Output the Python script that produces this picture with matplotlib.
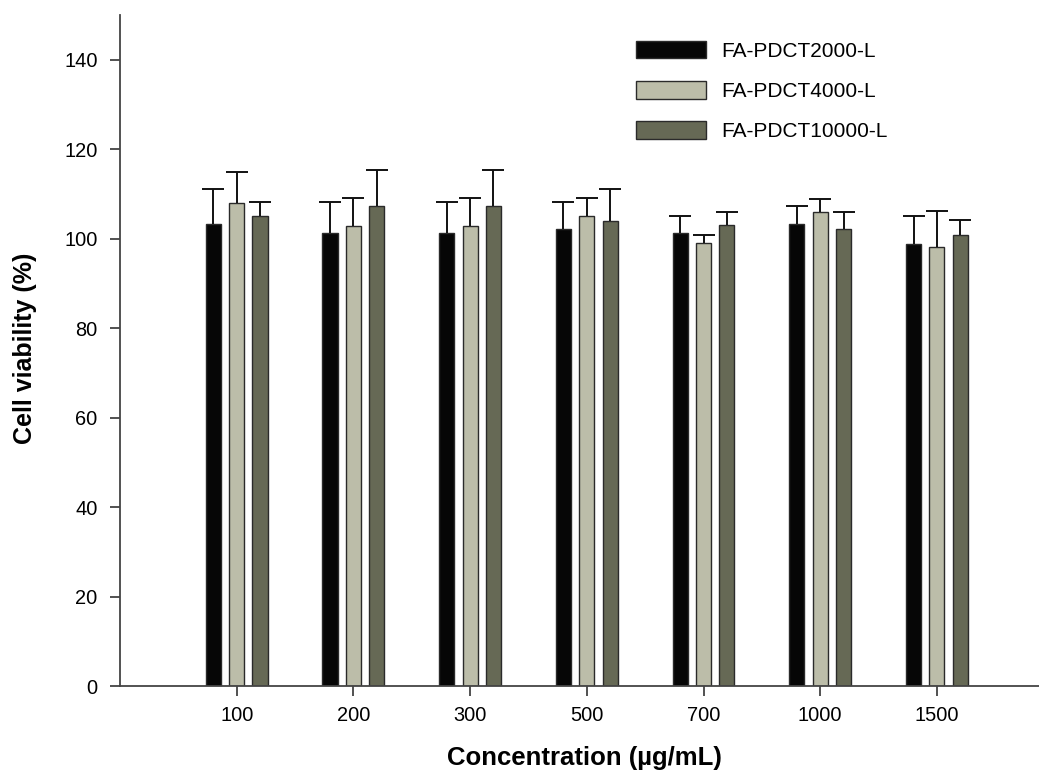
import matplotlib
matplotlib.use("Agg")
import matplotlib.pyplot as plt
import numpy as np

plt.rcParams['font.family'] = ['Liberation Sans', 'DejaVu Sans']

categories = ["100", "200", "300", "500", "700", "1000", "1500"]
series_names = ["FA-PDCT2000-L", "FA-PDCT4000-L", "FA-PDCT10000-L"]
v2000 = [103.3, 101.2, 101.2, 102.1, 101.2, 103.2, 98.9]
e2000 = [7.7, 7.0, 7.0, 6.1, 3.9, 4.0, 6.2]
v4000 = [108.0, 102.9, 102.9, 105.0, 99.1, 105.9, 98.1]
e4000 = [7.0, 6.2, 6.2, 4.1, 1.8, 3.0, 8.0]
v10000 = [105.1, 107.2, 107.2, 104.0, 103.0, 102.1, 100.9]
e10000 = [3.0, 8.2, 8.2, 7.0, 3.0, 3.9, 3.2]
colors = ["#060606", "#bcbda9", "#666955"]
yticks = [0, 20, 40, 60, 80, 100, 120, 140]

W, H = 1039, 771
fig = plt.figure(figsize=(W / 100, H / 100), dpi=100)
ax = fig.add_axes([120 / W, 1 - 686 / H, (1039 - 120) / W, (686 - 15) / H])

x = np.arange(1, len(categories) + 1)
offsets = [-0.2, 0.0, 0.2]
width = 0.13
for vals, errs, col, off, name in zip([v2000, v4000, v10000], [e2000, e4000, e10000],
                                      colors, offsets, series_names):
    vals = np.asarray(vals)
    ax.bar(x + off, vals, width=width, color=col, edgecolor="#2a2a2a", linewidth=1.0,
           label=name, zorder=2)
    cont = ax.errorbar(x + off, vals, yerr=[np.zeros(len(errs)), errs], fmt="none",
                       ecolor="#111111", elinewidth=1.4, capsize=7.6, capthick=1.4, zorder=3)
    for cl in cont.lines[1]:
        yd = np.asarray(cl.get_ydata(), dtype=float)
        if np.allclose(yd, vals):
            cl.set_visible(False)

ax.set_xlim(0, (1039 - 120) / 116.7)
ax.set_ylim(0, 150)
ax.set_xticks(x)
ax.set_xticklabels(categories)
ax.set_yticks(yticks)
ax.tick_params(axis="both", direction="out", length=7.2, width=1.2, labelsize=14.4,
               color="#333333")
ax.tick_params(axis="x", pad=7)
ax.tick_params(axis="y", pad=9)
for s in ["top", "right"]:
    ax.spines[s].set_visible(False)
for s in ["left", "bottom"]:
    ax.spines[s].set_linewidth(1.3)
    ax.spines[s].set_color("#444444")

fig.text(584 / W, 1 - 758 / H, "Concentration (\u00b5g/mL)", ha="center", va="center",
         fontsize=18.5, fontweight="bold")
fig.text(25 / W, 1 - 348 / H, "Cell viability (%)", ha="center", va="center",
         rotation=90, fontsize=18, fontweight="bold")

leg = ax.legend(loc="upper left", bbox_to_anchor=(636 / W, 1 - 41 / H),
                bbox_transform=fig.transFigure, frameon=False, fontsize=15,
                handlelength=3.37, handleheight=0.91, handletextpad=0.7,
                labelspacing=0.97, borderpad=0, borderaxespad=0)

fig.savefig("out.png", dpi=100)
